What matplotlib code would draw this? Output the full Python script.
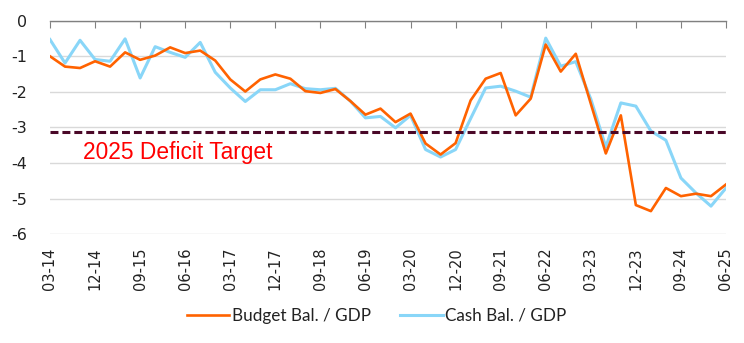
import matplotlib
matplotlib.use("Agg")
import matplotlib.pyplot as plt
import numpy as np

# quarterly labels 03-14 .. 06-25
quarters = [f"{m:02d}-{y % 100:02d}" for y in range(2014, 2026) for m in (3, 6, 9, 12)][:46]

budget = [-1.00, -1.29, -1.33, -1.14, -1.29, -0.89, -1.10, -0.98, -0.75, -0.91,
          -0.84, -1.12, -1.65, -1.99, -1.65, -1.51, -1.63, -1.98, -2.03, -1.92,
          -2.26, -2.64, -2.47, -2.85, -2.61, -3.45, -3.76, -3.44, -2.24, -1.63,
          -1.47, -2.66, -2.19, -0.67, -1.43, -0.93, -2.33, -3.73, -2.66, -5.18,
          -5.35, -4.70, -4.93, -4.86, -4.93, -4.60]
cash = [-0.53, -1.19, -0.55, -1.09, -1.14, -0.51, -1.61, -0.73, -0.89, -1.03,
        -0.61, -1.45, -1.89, -2.27, -1.94, -1.94, -1.77, -1.91, -1.94, -1.90,
        -2.26, -2.73, -2.69, -3.01, -2.66, -3.62, -3.83, -3.62, -2.75, -1.89,
        -1.84, -1.98, -2.15, -0.49, -1.28, -1.15, -2.20, -3.55, -2.31, -2.40,
        -3.10, -3.36, -4.42, -4.84, -5.21, -4.70]
target = -3.12
target_label = "2025 Deficit Target"

plt.rcParams['font.family'] = ['DejaVu Sans']

fig = plt.figure(figsize=(7.44, 3.43), dpi=100)
ax = fig.add_axes([0.0672, 0.317, 0.9086, 0.6227])

x = np.arange(len(quarters))
ax.plot(x, budget, color='#FF6200', lw=1.9, label='Budget Bal. / GDP', zorder=3)
ax.plot(x, cash, color='#89D6F8', lw=2.2, label='Cash Bal. / GDP', zorder=2)
ax.axhline(target, color='#4A0828', lw=2.2, ls=(0, (2.6, 1.3)), zorder=4)
ax.text(2.2, -3.885, target_label, color='#FF0000', fontsize=16.4,
        family='Liberation Sans', ha='left', va='baseline')

ax.set_xlim(0, len(quarters) - 1)
ax.set_ylim(-6, 0)
ax.set_yticks(range(-6, 1))
ax.set_yticklabels([str(v) for v in range(-6, 1)])
ax.set_xticks(x[::3])
ax.set_xticklabels(quarters[::3], rotation=90)

ax.grid(axis='y', color='#D9D9D9', lw=1)
ax.set_axisbelow(True)
for s in ('left', 'right', 'bottom'):
    ax.spines[s].set_visible(False)
ax.spines['top'].set_color('#808080')
ax.spines['top'].set_linewidth(1)

ax.tick_params(axis='x', top=True, bottom=False, labeltop=False, labelbottom=True,
               direction='in', length=5, color='#808080', pad=9.5, labelsize=10.5,
               labelcolor='#222222')
ax.tick_params(axis='y', left=False, pad=13, labelsize=11.5, labelcolor='#222222')

leg = fig.legend(loc='center', bbox_to_anchor=(0.506, 0.079), ncol=2, frameon=False,
                 prop={'family': 'Lato', 'size': 12.3}, handlelength=2.5,
                 handletextpad=0.15, columnspacing=1.7)
for t in leg.get_texts():
    t.set_color('#222222')

fig.savefig('out.png', dpi=100)
